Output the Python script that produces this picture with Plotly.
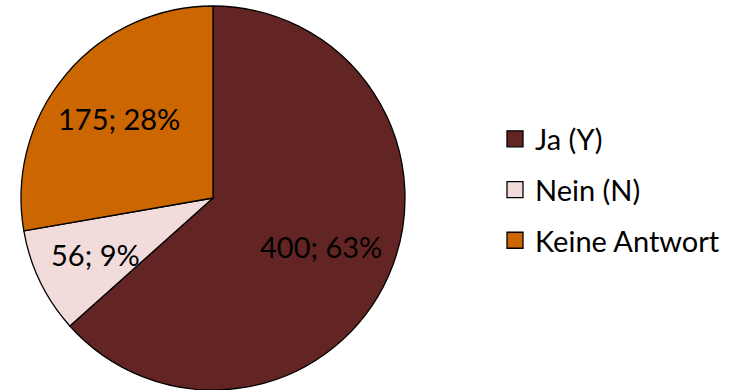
import math
import plotly.graph_objects as go

labels = ["Ja (Y)", "Nein (N)", "Keine Antwort"]
values = [400, 56, 175]
colors = ["#632523", "#F2DCDB", "#CC6600"]

# style: radial position of each label as a fraction of the radius
label_radius = [0.615, 0.68, 0.64]

W, H = 740, 390
dom_x = [21 / W, 405 / W]
dom_y = [0, 384 / H]
FONT = "Lato"

fig = go.Figure()
fig.add_trace(go.Pie(
    labels=labels,
    values=values,
    sort=False,
    direction="clockwise",
    rotation=0,
    marker=dict(colors=colors, line=dict(color="black", width=1.3)),
    textinfo="none",
    domain=dict(x=dom_x, y=dom_y),
    hoverinfo="skip",
    showlegend=False,
))

# data labels "value; percent" placed along each slice's bisector
total = sum(values)
cx = (dom_x[0] + dom_x[1]) / 2 * W
cy = (1 - (dom_y[0] + dom_y[1]) / 2) * H
R = min((dom_x[1] - dom_x[0]) * W, (dom_y[1] - dom_y[0]) * H) / 2
cum = 0
for v, rf in zip(values, label_radius):
    mid = (cum + v / 2) / total * 2 * math.pi
    cum += v
    px = cx + rf * R * math.sin(mid)
    py = cy - rf * R * math.cos(mid)
    fig.add_annotation(
        x=px / W, y=1 - py / H, xref="paper", yref="paper",
        text=f"{v}; {round(v / total * 100)}%", showarrow=False,
        font=dict(family=FONT, size=29, color="black"),
        xanchor="center", yanchor="middle",
    )

# legend entries
for i, (lab, col) in enumerate(zip(labels, colors)):
    fig.add_trace(go.Scatter(
        x=[None], y=[None], mode="markers", name=lab,
        marker=dict(symbol="square", size=16, color=col,
                    line=dict(color="black", width=1.3)),
        legendgroup=f"g{i}", showlegend=True, hoverinfo="skip",
    ))

fig.update_layout(
    width=W, height=H,
    margin=dict(l=0, r=0, t=0, b=0),
    paper_bgcolor="white",
    plot_bgcolor="white",
    font=dict(family=FONT, size=29, color="black"),
    xaxis=dict(visible=False),
    yaxis=dict(visible=False),
    legend=dict(x=495 / W, y=1 - 190 / H, xanchor="left", yanchor="middle",
                font=dict(family=FONT, size=29, color="black"),
                itemwidth=30, tracegroupgap=10, bgcolor="rgba(0,0,0,0)"),
)

fig.write_html("out.html", config={"displayModeBar": False},
               post_script="document.body.style.margin='0';")
